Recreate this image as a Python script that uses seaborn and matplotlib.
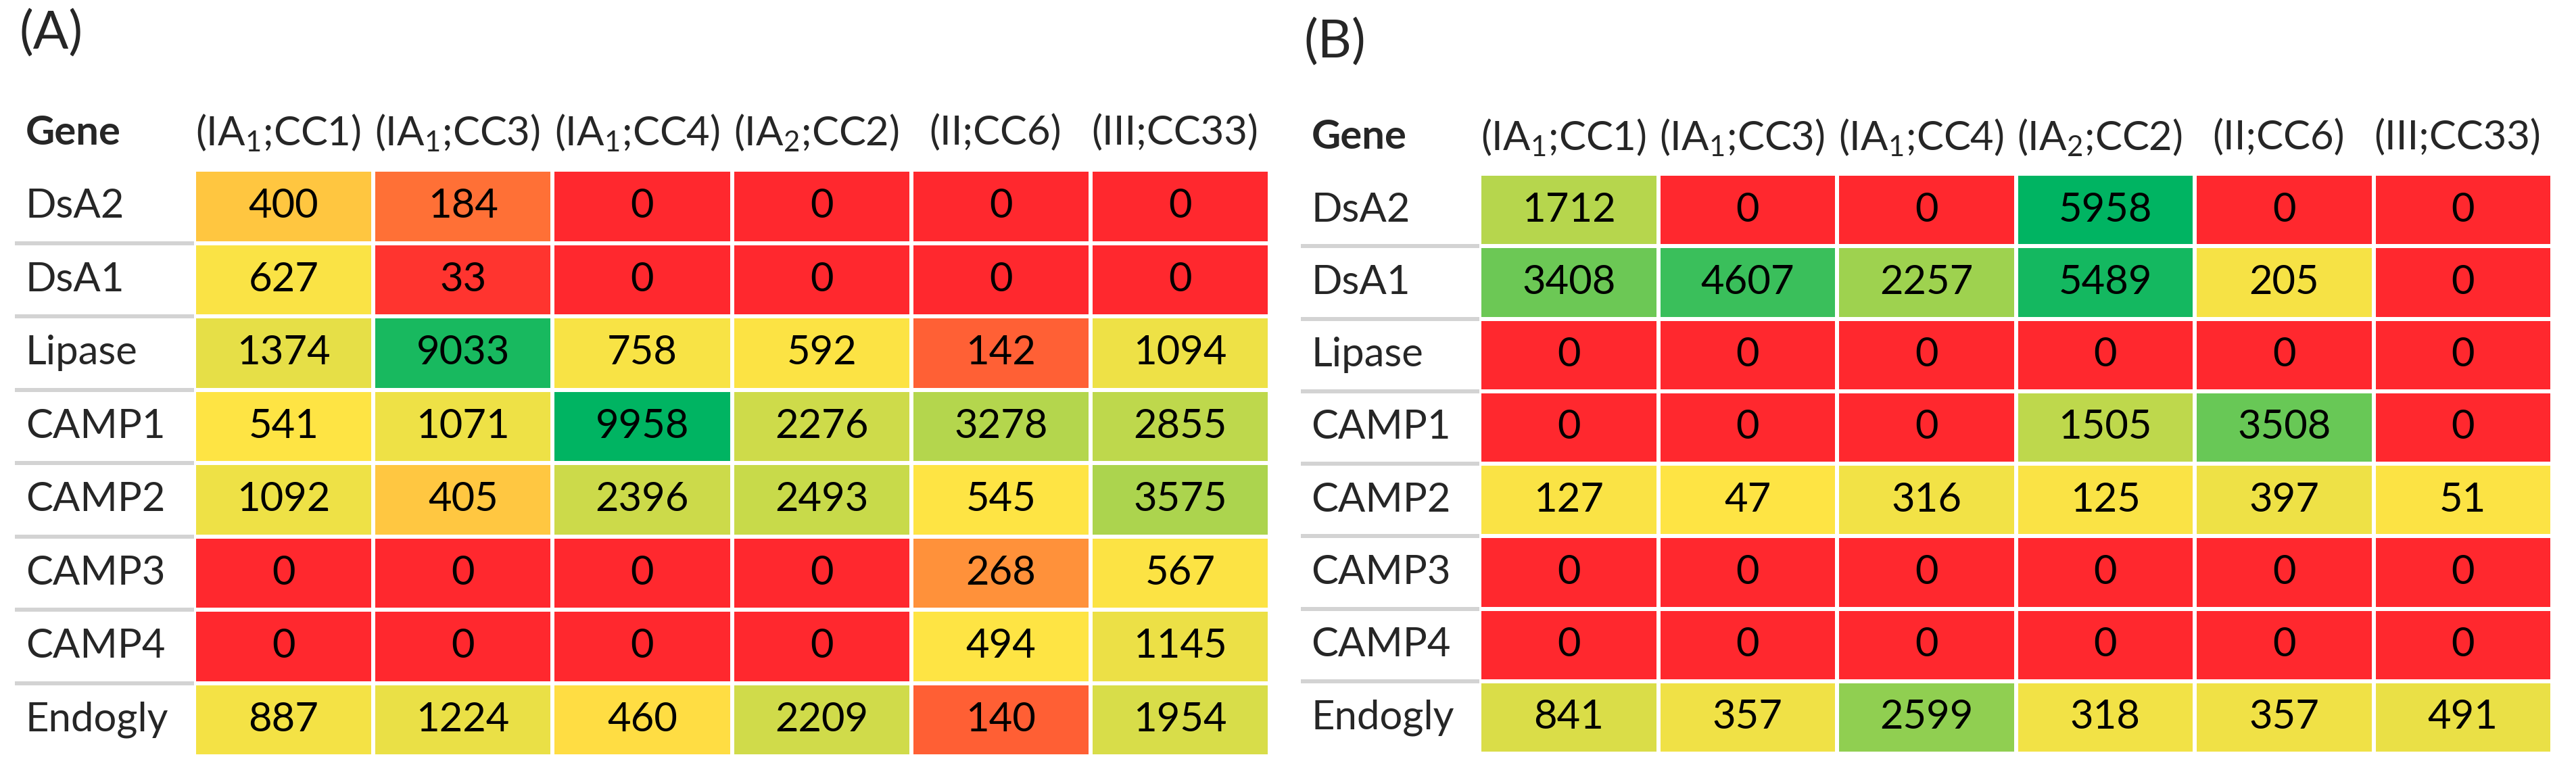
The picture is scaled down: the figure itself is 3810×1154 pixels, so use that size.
import numpy as np
import pandas as pd
import matplotlib
matplotlib.use("Agg")
import matplotlib.pyplot as plt
import seaborn as sns
from matplotlib.colors import LinearSegmentedColormap, TwoSlopeNorm

genes = ["DsA2", "DsA1", "Lipase", "CAMP1", "CAMP2", "CAMP3", "CAMP4", "Endogly"]
strains = [r"(IA$_1$;CC1)", r"(IA$_1$;CC3)", r"(IA$_1$;CC4)",
           r"(IA$_2$;CC2)", "(II;CC6)", "(III;CC33)"]

values_a = [
    [400, 184, 0, 0, 0, 0],
    [627, 33, 0, 0, 0, 0],
    [1374, 9033, 758, 592, 142, 1094],
    [541, 1071, 9958, 2276, 3278, 2855],
    [1092, 405, 2396, 2493, 545, 3575],
    [0, 0, 0, 0, 268, 567],
    [0, 0, 0, 0, 494, 1145],
    [887, 1224, 460, 2209, 140, 1954],
]
values_b = [
    [1712, 0, 0, 5958, 0, 0],
    [3408, 4607, 2257, 5489, 205, 0],
    [0, 0, 0, 0, 0, 0],
    [0, 0, 0, 1505, 3508, 0],
    [127, 47, 316, 125, 397, 51],
    [0, 0, 0, 0, 0, 0],
    [0, 0, 0, 0, 0, 0],
    [841, 357, 2599, 318, 357, 491],
]

sns.set_style("white")
plt.rcParams["font.family"] = ["Lato", "DejaVu Sans"]
plt.rcParams["mathtext.fontset"] = "custom"
plt.rcParams["mathtext.rm"] = "Lato"
plt.rcParams["mathtext.default"] = "regular"

# excel-like 3 colour scale: min red, median yellow, max green
cmap = LinearSegmentedColormap.from_list("ryg", ["#FF282E", "#FFE444", "#00B462"])
FS = 43
sep_color = "#d3d3d3"


def draw_table(ax, values):
    df = pd.DataFrame(values, index=genes, columns=strains)
    arr = df.values.astype(float)
    mid = np.median(arr)
    if mid <= arr.min():
        mid = arr.min() + 0.5
    norm = TwoSlopeNorm(vmin=arr.min(), vcenter=mid, vmax=arr.max())
    sns.heatmap(df, ax=ax, cmap=cmap, norm=norm, annot=True, fmt="d", cbar=False,
                linewidths=4, linecolor="white", xticklabels=False, yticklabels=False,
                annot_kws=dict(fontsize=FS, color="black"))
    for i, g in enumerate(genes):
        ax.text(-0.94, i + 0.5, g, ha="left", va="center", fontsize=FS)
        if i < len(genes) - 1:
            ax.plot([-1, 0], [i + 1, i + 1], color=sep_color, lw=4.3,
                    solid_capstyle="butt", clip_on=False)
    ax.text(-0.94, -0.5, "Gene", ha="left", va="center", fontsize=FS, fontweight="bold")
    for j, s in enumerate(strains):
        ax.text(j + 0.47, -0.5, s, ha="center", va="center", fontsize=FS)


fig = plt.figure(figsize=(38.1, 11.54), dpi=100)
ax_a = fig.add_axes([287 / 3810, 1 - 1119 / 1154, 1591 / 3810, 868 / 1154])
ax_b = fig.add_axes([2188 / 3810, 1 - 1115 / 1154, 1587 / 3810, 858 / 1154])
draw_table(ax_a, values_a)
draw_table(ax_b, values_b)

fig.text(28 / 3810, 1 - 14 / 1154, "(A)", ha="left", va="top", fontsize=56)
fig.text(1928 / 3810, 1 - 27 / 1154, "(B)", ha="left", va="top", fontsize=56)

fig.savefig("out.png", dpi=100)
